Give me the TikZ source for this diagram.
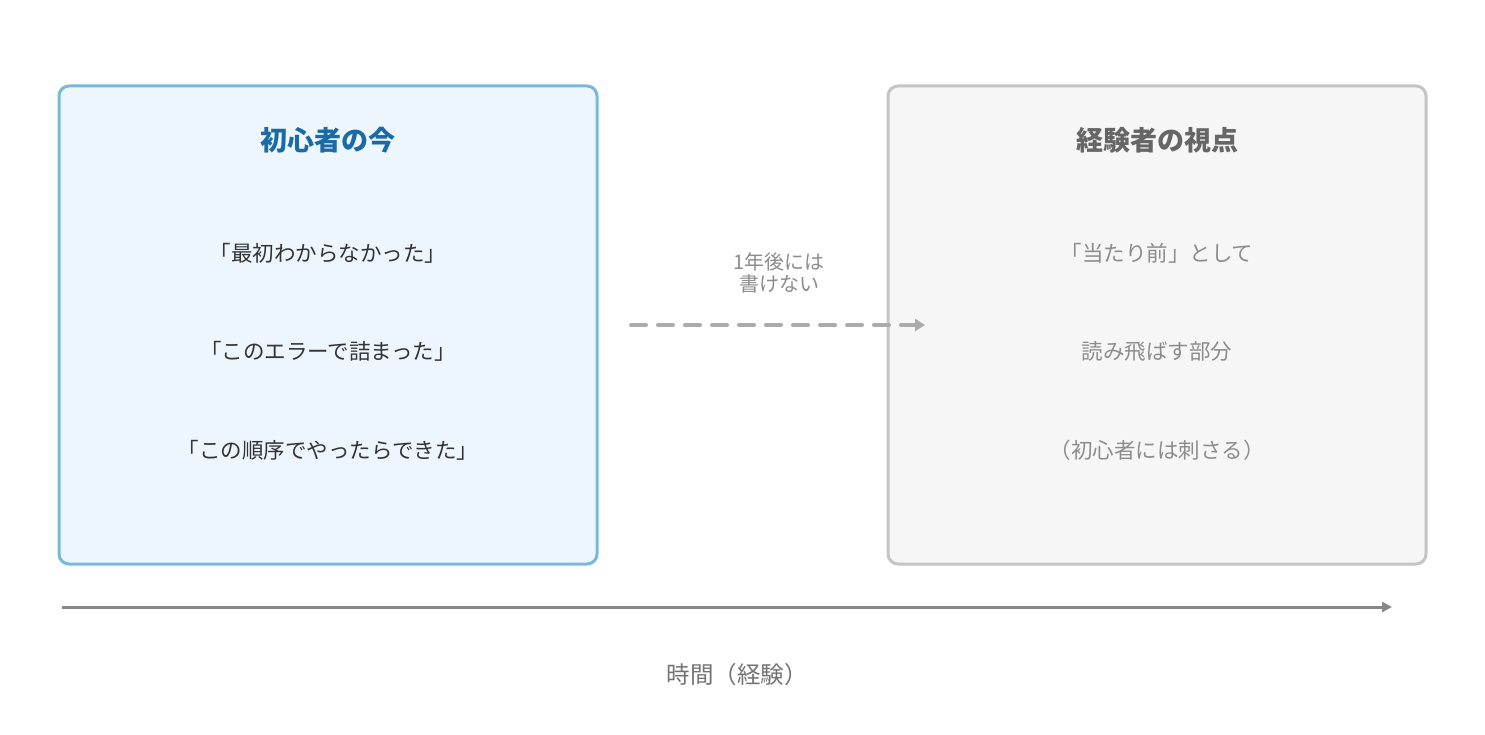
\documentclass[tikz,border=0pt]{standalone}
\usepackage{fontspec}
\setmainfont{Noto Sans CJK JP}
\usetikzlibrary{arrows.meta}
\definecolor{lbord}{HTML}{7AB8D9}
\definecolor{lfill}{HTML}{EEF6FD}
\definecolor{ltitle}{HTML}{1A6AA6}
\definecolor{rbord}{HTML}{C4C4C4}
\definecolor{rfill}{HTML}{F6F6F6}
\tikzset{
  panel/.style={rounded corners=10pt, line width=3pt},
  ltxt/.style={text=black!80, font=\fontsize{21.5}{24}\selectfont},
  rtxt/.style={text=black!45, font=\fontsize{21.5}{24}\selectfont},
  ttl/.style={font=\bfseries\fontsize{27}{30}\selectfont},
}
\begin{document}
\begin{tikzpicture}[x=1pt,y=-1pt]
\useasboundingbox (0,0) rectangle (1485,735);
\fill[white] (0,0) rectangle (1485,735);
\draw[panel, draw=lbord, fill=lfill] (59,86) rectangle (597,564);
\draw[panel, draw=rbord, fill=rfill] (888,86) rectangle (1426,564);
\node[ttl, text=ltitle] (lt) at (328,140) {初心者の今};
\node[ltxt] (l1) at (328,253) {「最初わからなかった」};
\node[ltxt] (l2) at (328,351) {「このエラーで詰まった」};
\node[ltxt] (l3) at (328,450) {「この順序でやったらできた」};
\node[ttl, text=black!60] (rt) at (1157,140) {経験者の視点};
\node[rtxt] (r1) at (1157,253) {「当たり前」として};
\node[rtxt] (r2) at (1157,351) {読み飛ばす部分};
\node[rtxt] (r3) at (1157,450) {（初心者には刺さる）};
\coordinate (da) at (631,325);
\coordinate (db) at (925,325);
\draw[line width=4pt, line cap=round, draw=black!33, dash pattern=on 15pt off 12pt, -{Triangle[length=10pt,width=12pt]}] (da) -- (db);
\node[text=black!45, font=\fontsize{20}{22}\selectfont, align=center] (dl) at (779,273) {1年後には\\書けない};
\coordinate (ta) at (62,607);
\coordinate (tb) at (1392,607);
\draw[line width=3pt, draw=black!47, -{Triangle[length=10pt,width=10pt]}] (ta) -- (tb);
\node[text=black!55, font=\fontsize{23.5}{26}\selectfont] (tl) at (737,675) {時間（経験）};
\end{tikzpicture}
\end{document}
